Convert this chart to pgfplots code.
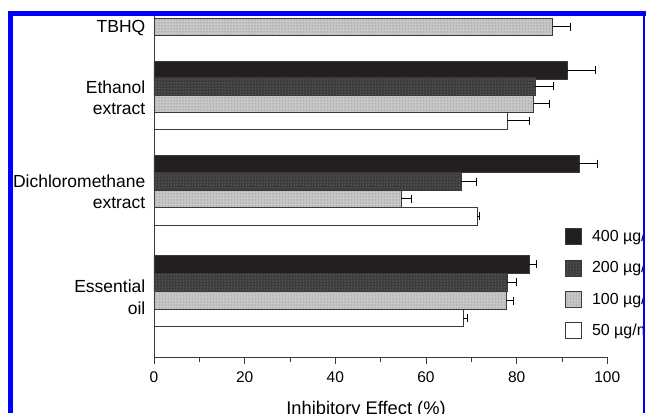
\documentclass[border=0pt]{standalone}
\usepackage{fontspec}
\setmainfont{Liberation Sans}
\usepackage{pgfplots}
\pgfplotsset{compat=1.18}
\usetikzlibrary{patterns}
\definecolor{c400}{HTML}{231F20}
\definecolor{c200}{HTML}{3C3C3C}
\definecolor{d200}{HTML}{9A9A9A}
\definecolor{c100}{HTML}{C8C8C8}
\definecolor{d100}{HTML}{666666}
\definecolor{axgray}{HTML}{3A3A3A}
\definecolor{frameblue}{HTML}{0000FF}
\begin{document}
\begin{tikzpicture}[x=1pt,y=1pt]
\path[use as bounding box] (0,0) rectangle (646,413);
\begin{scope}
\clip (13,0) rectangle (643.5,397);
\begin{axis}[
  at={(154pt,56pt)}, anchor=south west,
  scale only axis, width=453.3pt, height=343pt,
  xmin=0, xmax=100, ymin=0, ymax=343,
  axis x line=bottom, axis y line=left,
  axis line style={axgray, line width=0.9pt, -},
  xtick={0,20,...,100}, minor x tick num=1,
  xtick align=outside, ytick align=inside,
  major tick length=7pt, minor tick length=5pt,
  tick style={axgray, line width=0.9pt},
  ytick={60,165.5,259.5,329},
  yticklabels={{Essential\\oil},{Dichloromethane\\extract},{Ethanol\\extract},TBHQ},
  y tick style={draw=none},
  /pgf/number format/assume math mode=true,
  xticklabel style={font=\fontsize{15.5}{18}\selectfont, inner sep=0pt, yshift=-7.5pt},
  yticklabel style={font=\fontsize{17.5}{21.5}\selectfont, align=right, inner sep=0pt, xshift=-1.5pt},
  xlabel={Inhibitory Effect (\%)},
  xlabel style={at={(axis description cs:0.4677,-0.169)}, anchor=base, inner sep=0pt, font=\fontsize{18.3}{22}\selectfont},
  xbar, bar width=17.5, bar shift=0pt,
  error bars/x dir=plus, error bars/x explicit,
  error bars/error bar style={line width=1pt, black},
  error bars/error mark options={rotate=90, mark size=4pt, line width=1pt, black},
  legend style={at={(axis description cs:0.9067,0.376)}, anchor=north west, draw=none, fill=none,
    font=\fontsize{16}{19}\selectfont, row sep=14.5pt, column sep=10pt, inner sep=0pt, nodes={inner sep=0pt}},
  legend cell align=left,
  legend image code/.code={\draw[#1,line width=0.8pt,draw=axgray] (0pt,-8pt) rectangle (16pt,8pt);},
]
\addplot[fill=c400, draw=axgray, line width=0.8pt] coordinates {(91.2,286.5) +- (6.1,0) (93.8,193) +- (4.0,0) (82.8,92.5) +- (1.5,0)};
\addplot[fill=c200, draw=axgray, line width=0.8pt, postaction={pattern=dots, pattern color=d200}] coordinates {(84.1,270.5) +- (4.0,0) (67.8,175.5) +- (3.3,0) (77.9,74.5) +- (2.0,0)};
\addplot[fill=c100, draw=axgray, line width=0.8pt, postaction={pattern=dots, pattern color=d100}] coordinates {(87.9,330) +- (3.9,0) (83.8,253) +- (3.4,0) (54.5,158) +- (2.2,0) (77.7,56.5) +- (1.5,0)};
\addplot[fill=white, draw=axgray, line width=0.8pt] coordinates {(77.9,236) +- (4.9,0) (71.3,140.5) +- (0.5,0) (68.2,39) +- (0.9,0)};
\legend{400 µg/mL, 200 µg/mL, 100 µg/mL, 50 µg/mL}
\end{axis}
\end{scope}
\fill[frameblue] (8,0) rectangle (13,402);
\fill[frameblue] (8,397) rectangle (646,402);
\fill[frameblue] (643.3,0) rectangle (645,402);
\end{tikzpicture}
\end{document}
